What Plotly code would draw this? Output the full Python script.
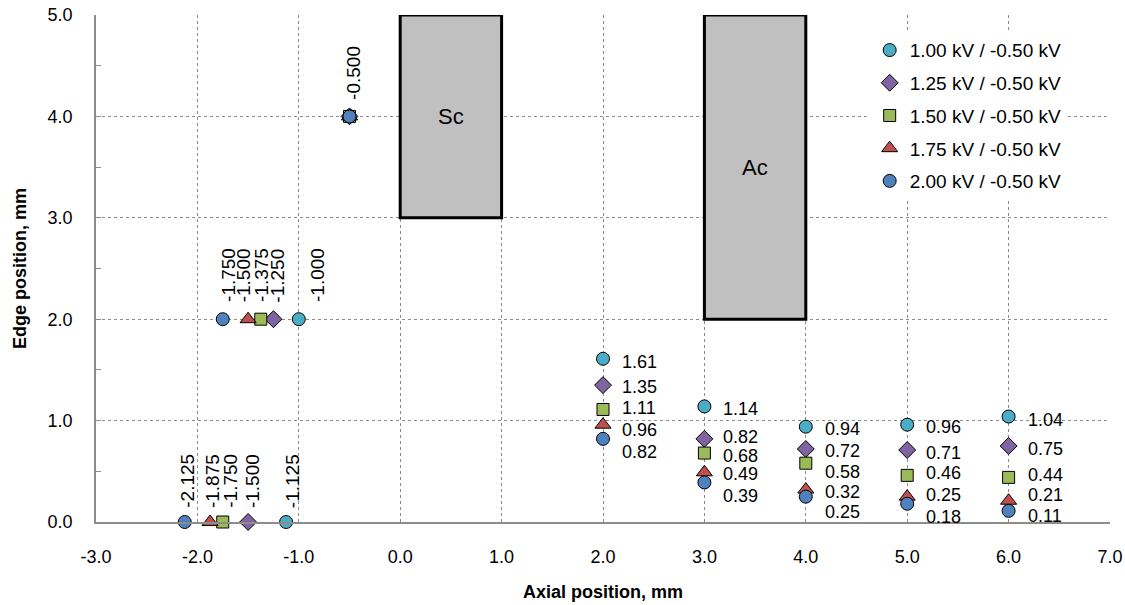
import plotly.graph_objects as go

# ---------------- data ----------------
series_names = ["1.00 kV / -0.50 kV", "1.25 kV / -0.50 kV", "1.50 kV / -0.50 kV",
                "1.75 kV / -0.50 kV", "2.00 kV / -0.50 kV"]

s1_x = [-1.125, -1.0, -0.5, 2, 3, 4, 5, 6]
s1_y = [0, 2, 4, 1.61, 1.14, 0.94, 0.96, 1.04]
s2_x = [-1.5, -1.25, -0.5, 2, 3, 4, 5, 6]
s2_y = [0, 2, 4, 1.35, 0.82, 0.72, 0.71, 0.75]
s3_x = [-1.75, -1.375, -0.5, 2, 3, 4, 5, 6]
s3_y = [0, 2, 4, 1.11, 0.68, 0.58, 0.46, 0.44]
s4_x = [-1.875, -1.5, -0.5, 2, 3, 4, 5, 6]
s4_y = [0, 2, 4, 0.96, 0.49, 0.32, 0.25, 0.21]
s5_x = [-2.125, -1.75, -0.5, 2, 3, 4, 5, 6]
s5_y = [0, 2, 4, 0.82, 0.39, 0.25, 0.18, 0.11]

region_names = ["Sc", "Ac"]
region_x0 = [0, 3]
region_x1 = [1, 4]
region_y0 = [3, 2]
region_y1 = [5, 5]

x_ticks = [-3, -2, -1, 0, 1, 2, 3, 4, 5, 6, 7]
y_ticks = [0, 1, 2, 3, 4, 5]

# ---------------- styles ----------------
colors = ["#4BACC6", "#8064A2", "#9BBB59", "#C0504D", "#4F81BD"]
symbols = ["circle", "diamond", "square", "triangle-up", "circle"]
msizes = [13, 13, 12, 14, 13]
FONT = "Liberation Sans, Arial, sans-serif"

# label placement tweaks (pixels)
rot_xshift = [[6, 18, None], [4, 4, None], [7, 0, None], [2, -5, None], [2, 5, 4]]
num_down = [[3, 2.6, 2.3, 2.3, 3.5],
            [2, -2, 2, 3, 3],
            [-1.5, 3, 9, -2.4, -2.4],
            [5, 1.5, 2, -1.5, -6],
            [13, 13.5, 15, 13.5, 5]]

all_x = [s1_x, s2_x, s3_x, s4_x, s5_x]
all_y = [s1_y, s2_y, s3_y, s4_y, s5_y]

fig = go.Figure()
for i in range(5):
    fig.add_trace(go.Scatter(
        x=all_x[i], y=all_y[i], mode="markers", name=series_names[i],
        legendgroup=f"g{i}",
        marker=dict(symbol=symbols[i], size=msizes[i], color=colors[i],
                    line=dict(color="black", width=1)),
        cliponaxis=False))

annotations = []
for i in range(5):
    xs, ys = all_x[i], all_y[i]
    for j in range(len(xs)):
        if j < 3:
            sh = rot_xshift[i][j]
            if sh is None:
                continue
            ysh = {0: 13, 2: 16, 4: 15}[ys[j]]
            annotations.append(dict(
                x=xs[j], y=ys[j], text=f"{xs[j]:.3f}", textangle=-90,
                showarrow=False, xanchor="center", yanchor="bottom",
                xshift=sh, yshift=ysh, borderpad=0,
                font=dict(family=FONT, size=19, color="black")))
        else:
            annotations.append(dict(
                x=xs[j], y=ys[j], text=f"{ys[j]:.2f}", showarrow=False,
                xanchor="left", yanchor="middle", xshift=18,
                yshift=-num_down[i][j - 3], borderpad=0,
                font=dict(family=FONT, size=18, color="black")))

shapes = []
for k in range(len(region_names)):
    shapes.append(dict(type="rect", xref="x", yref="y",
                       x0=region_x0[k], x1=region_x1[k],
                       y0=region_y0[k], y1=region_y1[k],
                       fillcolor="#C0C0C0", line=dict(color="black", width=3),
                       layer="between"))
    annotations.append(dict(
        x=(region_x0[k] + region_x1[k]) / 2, y=(region_y0[k] + region_y1[k]) / 2,
        text=region_names[k], showarrow=False,
        font=dict(family=FONT, size=22, color="black")))

axis_common = dict(showgrid=True, gridcolor="#8C8C8C", griddash="dot", gridwidth=1,
                   showline=True, linecolor="#8C8C8C", linewidth=1.5,
                   zeroline=False, automargin=False,
                   tickfont=dict(family=FONT, size=18, color="black"))

fig.update_layout(
    width=1125, height=605,
    margin=dict(l=96, r=15, t=15, b=83),
    paper_bgcolor="white", plot_bgcolor="white",
    font=dict(family=FONT, color="black"),
    xaxis=dict(range=[-3, 7], tickvals=x_ticks,
               ticktext=[f"{v:.1f}" for v in x_ticks],
               ticks="", ticklabelstandoff=18,
               title=dict(text="<b>Axial position, mm</b>", standoff=19,
                          font=dict(family=FONT, size=18, color="black")),
               **axis_common),
    yaxis=dict(range=[0, 5], tickvals=y_ticks,
               ticktext=[f"{v:.1f}" for v in y_ticks],
               ticks="inside", ticklen=5,
               tickcolor="#8C8C8C", ticklabelstandoff=18,
               minor=dict(dtick=0.5, ticks="inside", ticklen=5, tickcolor="#8C8C8C",
                          showgrid=False),
               title=dict(text="<b>Edge position, mm</b>", standoff=16,
                          font=dict(family=FONT, size=18, color="black")),
               **axis_common),
    legend=dict(x=0.763, y=0.968, xanchor="left", yanchor="top",
                bgcolor="white", tracegroupgap=5,
                font=dict(family=FONT, size=19, color="black")),
    shapes=shapes,
    annotations=annotations,
)

fig.write_html("out.html")
